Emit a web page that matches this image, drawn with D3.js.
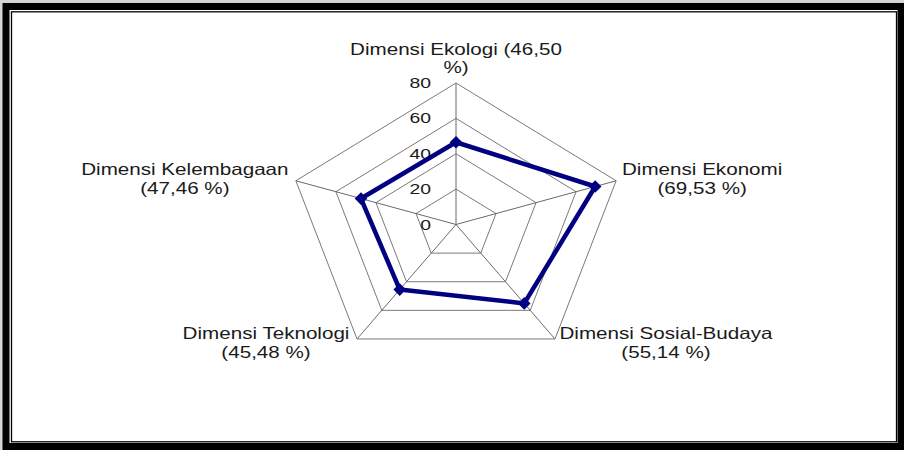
<!DOCTYPE html>
<html>
<head>
<meta charset="utf-8">
<script src="https://cdn.jsdelivr.net/npm/d3@7"></script>
<style>
  html, body { margin: 0; padding: 0; background: #cfcfcf; }
  svg { display: block; }
  text { font-family: "Liberation Sans", Arial, sans-serif; fill: #1a1a1a; }
</style>
</head>
<body>
<svg id="chart" width="904" height="450"></svg>
<script>
// Dimension scores (%) for the radar chart
const dimensions = ["Dimensi Ekologi", "Dimensi Ekonomi", "Dimensi Sosial-Budaya", "Dimensi Teknologi", "Dimensi Kelembagaan"];
const scores = [46.50, 69.53, 55.14, 45.48, 47.46];
const scoreLabels = ["(46,50 %)", "(69,53 %)", "(55,14 %)", "(45,48 %)", "(47,46 %)"];
const tickValues = [0, 20, 40, 60, 80];
const maxValue = 80;

const svg = d3.select("#chart");
const W = 904, H = 450;

// page frame: white sheet with a heavy black border and thin inner rule
svg.append("rect").attr("x", 0).attr("y", 0).attr("width", W).attr("height", H).attr("fill", "#d4d4d4");
svg.append("rect").attr("x", 6).attr("y", 6.5).attr("width", 895).attr("height", 440)
  .attr("fill", "#ffffff").attr("stroke", "#000").attr("stroke-width", 7);
svg.append("rect").attr("x", 11.5).attr("y", 11.8).attr("width", 885).attr("height", 430)
  .attr("fill", "none").attr("stroke", "#000").attr("stroke-width", 1.3);

// radar geometry (the plot is stretched horizontally)
const cx = 456, cy = 224.5;
const ry = 141.5, rx = ry * 1.19;
const rY = d3.scaleLinear().domain([0, maxValue]).range([0, ry]);
const rX = d3.scaleLinear().domain([0, maxValue]).range([0, rx]);
const angle = i => -Math.PI / 2 + i * 2 * Math.PI / dimensions.length;
const px = (i, v) => cx + Math.cos(angle(i)) * rX(v);
const py = (i, v) => cy + Math.sin(angle(i)) * rY(v);

const g = svg.append("g");

// concentric pentagon gridlines
const ring = v => dimensions.map((d, i) => [px(i, v), py(i, v)]);
g.selectAll("path.grid").data(tickValues.filter(t => t > 0)).join("path")
  .attr("class", "grid")
  .attr("d", v => d3.line()(ring(v)) + "Z")
  .attr("fill", "none").attr("stroke", "#7a7a7a").attr("stroke-width", 1);

// spokes
g.selectAll("line.spoke").data(dimensions).join("line")
  .attr("class", "spoke")
  .attr("x1", cx).attr("y1", cy)
  .attr("x2", (d, i) => px(i, maxValue)).attr("y2", (d, i) => py(i, maxValue))
  .attr("stroke", "#6a6a6a").attr("stroke-width", 1);

// value axis labels along the top spoke
g.selectAll("text.tick").data(tickValues).join("text")
  .attr("class", "tick")
  .attr("transform", v => `translate(${cx - 25},${py(0, v) + 1}) scale(1.25,1)`)
  .attr("text-anchor", "end")
  .attr("dominant-baseline", "middle")
  .attr("font-size", "15.5px")
  .text(v => v);

// data series
const pts = scores.map((v, i) => [px(i, v), py(i, v)]);
g.append("path")
  .attr("d", d3.line()(pts) + "Z")
  .attr("fill", "none").attr("stroke", "#000080").attr("stroke-width", 4.5)
  .attr("stroke-linejoin", "round");

g.selectAll("path.marker").data(pts).join("path")
  .attr("class", "marker")
  .attr("transform", d => `translate(${d[0]},${d[1]}) rotate(45)`)
  .attr("d", d3.symbol().type(d3.symbolSquare).size(80))
  .attr("fill", "#000080");

// category labels: offsets from each outer vertex (centre x, first baseline)
const labelOffsets = [[0, -28], [86, -6], [111, 0], [-91, 0], [-111, -6]];
const lineGap = [18, 19.5, 19.5, 19.5, 19.5];
const labelLines = dimensions.map((d, i) =>
  i === 0 ? [d + " " + scoreLabels[i].replace(" %)", ""), "%)"] : [d, scoreLabels[i]]);

dimensions.forEach((d, i) => {
  const x0 = px(i, maxValue) + labelOffsets[i][0];
  const y0 = py(i, maxValue) + labelOffsets[i][1];
  labelLines[i].forEach((line, k) => {
    g.append("text")
      .attr("transform", `translate(${x0},${y0 + k * lineGap[i]}) scale(1.25,1)`)
      .attr("text-anchor", "middle")
      .attr("font-size", "16.5px")
      .text(line);
  });
});
</script>
</body>
</html>
